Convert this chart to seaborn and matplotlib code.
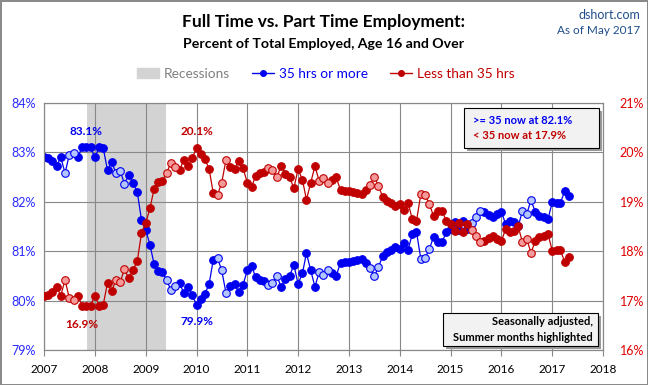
import pandas as pd
import numpy as np
import matplotlib.pyplot as plt
import matplotlib.dates as mdates
import matplotlib.patches as mpatches
from matplotlib.lines import Line2D
import seaborn as sns

sns.set_theme(style="white")
plt.rcParams["font.family"] = ["Lato", "DejaVu Sans"]

# ── data: monthly share of total employed, Jan 2007 - May 2017 ──
months = pd.date_range("2007-01-01", "2017-05-01", freq="MS")

full_time = [
    82.91, 82.88, 82.83, 82.72, 82.90, 82.58, 82.95, 82.99, 82.90, 83.10, 83.11, 83.10,  # 2007
    82.90, 83.10, 83.09, 82.64, 82.81, 82.58, 82.62, 82.37, 82.55, 82.39, 82.20, 81.64,  # 2008
    81.43, 81.12, 80.75, 80.59, 80.57, 80.41, 80.21, 80.30, 80.35, 80.16, 80.28, 80.11,  # 2009
    79.92, 80.03, 80.13, 80.33, 80.82, 80.86, 80.61, 80.15, 80.30, 80.33, 80.17, 80.32,  # 2010
    80.61, 80.71, 80.47, 80.42, 80.40, 80.31, 80.36, 80.50, 80.28, 80.43, 80.49, 80.73,  # 2011
    80.34, 80.55, 80.96, 80.61, 80.28, 80.58, 80.51, 80.61, 80.55, 80.50, 80.77, 80.79,  # 2012
    80.79, 80.81, 80.83, 80.85, 80.77, 80.67, 80.49, 80.68, 80.91, 80.98, 81.03, 81.08,  # 2013
    81.05, 81.17, 81.02, 81.35, 81.39, 80.85, 80.86, 81.04, 81.29, 81.19, 81.19, 81.38,  # 2014
    81.45, 81.60, 81.42, 81.62, 81.45, 81.58, 81.70, 81.82, 81.80, 81.73, 81.70, 81.76,  # 2015
    81.80, 81.55, 81.62, 81.60, 81.50, 81.82, 81.75, 82.03, 81.80, 81.72, 81.69, 81.65,  # 2016
    81.99, 81.97, 81.98, 82.22, 82.12,                                                  # 2017
]

part_time = [
    17.09, 17.12, 17.17, 17.28, 17.10, 17.42, 17.05, 17.01, 17.10, 16.90, 16.89, 16.90,  # 2007
    17.10, 16.90, 16.91, 17.36, 17.19, 17.42, 17.38, 17.63, 17.45, 17.61, 17.80, 18.36,  # 2008
    18.57, 18.88, 19.25, 19.41, 19.43, 19.59, 19.79, 19.70, 19.65, 19.84, 19.72, 19.89,  # 2009
    20.08, 19.97, 19.87, 19.67, 19.18, 19.14, 19.39, 19.85, 19.70, 19.67, 19.83, 19.68,  # 2010
    19.39, 19.29, 19.53, 19.58, 19.60, 19.69, 19.64, 19.50, 19.72, 19.57, 19.51, 19.27,  # 2011
    19.66, 19.45, 19.04, 19.39, 19.72, 19.42, 19.49, 19.39, 19.45, 19.50, 19.23, 19.21,  # 2012
    19.21, 19.19, 19.17, 19.15, 19.23, 19.33, 19.51, 19.32, 19.09, 19.02, 18.97, 18.92,  # 2013
    18.95, 18.83, 18.98, 18.65, 18.61, 19.15, 19.14, 18.96, 18.71, 18.81, 18.81, 18.62,  # 2014
    18.55, 18.40, 18.58, 18.38, 18.55, 18.42, 18.30, 18.18, 18.20, 18.27, 18.30, 18.24,  # 2015
    18.20, 18.45, 18.38, 18.40, 18.50, 18.18, 18.25, 17.97, 18.20, 18.28, 18.31, 18.35,  # 2016
    18.01, 18.03, 18.02, 17.78, 17.88,                                                  # 2017
]

recession_start = pd.Timestamp("2007-11-05")
recession_end = pd.Timestamp("2009-05-23")
summer_months = [6, 7, 8]

BLUE = "#0000F0"
BLUE_LIGHT = "#B4C6FF"
RED = "#C00000"
RED_LIGHT = "#F49A9A"
GRID = "#888888"

df = pd.DataFrame({"date": months, "full": full_time, "part": part_time})
df["summer"] = df["date"].dt.month.isin(summer_months)

# ── figure ───────────────────────────────────────────────
fig = plt.figure(figsize=(6.48, 3.85), dpi=100)
fig.patch.set_edgecolor("#8A8A8A")
fig.patch.set_linewidth(2)
ax = fig.add_axes([0.068, 0.0909, 0.8626, 0.6416])
ax2 = ax.twinx()

ax.axvspan(recession_start, recession_end, color="#D3D3D3", lw=0, zorder=0)

# 35 hrs or more (left axis)
sns.lineplot(data=df, x="date", y="full", ax=ax, color=BLUE, lw=0.9, zorder=3)
sns.scatterplot(data=df[~df.summer], x="date", y="full", ax=ax, color=BLUE,
                edgecolor=BLUE, s=30, linewidth=0.8, zorder=4)
sns.scatterplot(data=df[df.summer], x="date", y="full", ax=ax, color=BLUE_LIGHT,
                edgecolor=BLUE, s=30, linewidth=0.8, zorder=4)

# less than 35 hrs (right axis)
sns.lineplot(data=df, x="date", y="part", ax=ax2, color=RED, lw=0.9, zorder=3)
sns.scatterplot(data=df[~df.summer], x="date", y="part", ax=ax2, color=RED,
                edgecolor=RED, s=30, linewidth=0.8, zorder=4)
sns.scatterplot(data=df[df.summer], x="date", y="part", ax=ax2, color=RED_LIGHT,
                edgecolor=RED, s=30, linewidth=0.8, zorder=4)

# ── axes ─────────────────────────────────────────────────
ax.set_xlim(pd.Timestamp("2007-01-01"), pd.Timestamp("2018-01-01"))
ax.set_ylim(79, 84)
ax2.set_ylim(16, 21)
ax.set_yticks(range(79, 85))
ax2.set_yticks(range(16, 22))
ax.yaxis.set_major_formatter(plt.FuncFormatter(lambda v, p: f"{v:.0f}%"))
ax2.yaxis.set_major_formatter(plt.FuncFormatter(lambda v, p: f"{v:.0f}%"))
ax.xaxis.set_major_locator(mdates.YearLocator())
ax.xaxis.set_major_formatter(mdates.DateFormatter("%Y"))
for a in (ax, ax2):
    a.set_xlabel("")
    a.set_ylabel("")
    for s in a.spines.values():
        s.set_color(GRID)
        s.set_linewidth(0.8)

ax.grid(True, color=GRID, lw=0.8)
ax.set_axisbelow(True)
ax2.grid(False)
ax.tick_params(axis="y", length=0, pad=6, labelcolor="#2A2AFF", labelsize=9)
ax2.tick_params(axis="y", length=0, pad=12, labelcolor="#E00000", labelsize=9)
ax.tick_params(axis="x", bottom=True, length=4, width=0.8, color=GRID, direction="out",
               pad=6, labelcolor="black", labelsize=8.5)

# ── extremes ─────────────────────────────────────────────
hi_f = df.loc[df.full.idxmax()]
lo_f = df.loc[df.full.idxmin()]
hi_p = df.loc[df.part.idxmax()]
lo_p = df.loc[df.part.idxmin()]
ax.annotate(f"{hi_f.full:.1f}%", (hi_f.date, hi_f.full), xytext=(0, 11), textcoords="offset points",
            ha="center", va="center", color=BLUE, fontsize=8.5, fontweight="bold")
ax.annotate(f"{lo_f.full:.1f}%", (lo_f.date, lo_f.full), xytext=(0, -12), textcoords="offset points",
            ha="center", va="center", color=BLUE, fontsize=8.5, fontweight="bold")
ax2.annotate(f"{hi_p.part:.1f}%", (hi_p.date, hi_p.part), xytext=(0, 12), textcoords="offset points",
             ha="center", va="center", color=RED, fontsize=8.5, fontweight="bold")
ax2.annotate(f"{lo_p.part:.1f}%", (lo_p.date, lo_p.part), xytext=(-3, -13), textcoords="offset points",
             ha="center", va="center", color=RED, fontsize=8.5, fontweight="bold")

# ── boxes ────────────────────────────────────────────────
def box(x0, y0, w, h):
    ax2.add_patch(mpatches.Rectangle((x0 + 0.005, y0 - 0.012), w, h, transform=ax2.transAxes,
                                     facecolor="#9A9A9A", lw=0, zorder=5))
    ax2.add_patch(mpatches.Rectangle((x0, y0), w, h, transform=ax2.transAxes,
                                     facecolor="#F2F2F2", edgecolor="black", lw=0.8, zorder=6))

box(0.751, 0.818, 0.242, 0.162)
ax2.text(0.767, 0.931, f">= 35 now at {full_time[-1]:.1f}%", transform=ax2.transAxes,
         color=BLUE, fontsize=8, fontweight="bold", va="center", zorder=7)
ax2.text(0.767, 0.868, f"< 35 now at {part_time[-1]:.1f}%", transform=ax2.transAxes,
         color=RED, fontsize=8, fontweight="bold", va="center", zorder=7)

box(0.714, 0.016, 0.277, 0.134)
ax2.text(0.982, 0.115, "Seasonally adjusted,", transform=ax2.transAxes, ha="right",
         va="center", fontsize=8, fontweight="bold", color="black", zorder=7)
ax2.text(0.982, 0.051, "Summer months highlighted", transform=ax2.transAxes, ha="right",
         va="center", fontsize=8, fontweight="bold", color="black", zorder=7)

# ── titles & legend ──────────────────────────────────────
fig.text(0.5, 1 - 22 / 385, "Full Time vs. Part Time Employment:", ha="center", va="center",
         fontsize=12.5, fontweight="bold", color="black")
fig.text(0.5, 1 - 44 / 385, "Percent of Total Employed, Age 16 and Over", ha="center",
         va="center", fontsize=10.2, fontweight="bold", color="black")
fig.text(640 / 648, 1 - 15 / 385, "dshort.com", ha="right", va="center", fontsize=9,
         color="#1F4E8C")
fig.text(640 / 648, 1 - 31 / 385, "As of May 2017", ha="right", va="center", fontsize=8.5,
         color="#1F4E8C")

handles = [
    mpatches.Patch(color="#D3D3D3"),
    Line2D([], [], color=BLUE, marker="o", markersize=4, lw=1),
    Line2D([], [], color=RED, marker="o", markersize=4, lw=1),
]
labels = ["Recessions", "35 hrs or more", "Less than 35 hrs"]
leg = fig.legend(handles, labels, loc="center", bbox_to_anchor=(0.503, 1 - 74 / 385), ncol=3,
                 frameon=False, fontsize=9.8, handlelength=1.6, handletextpad=0.4,
                 columnspacing=1.6)
for t, c in zip(leg.get_texts(), ["#808080", BLUE, RED]):
    t.set_color(c)

plt.savefig("out.png", dpi=100)
